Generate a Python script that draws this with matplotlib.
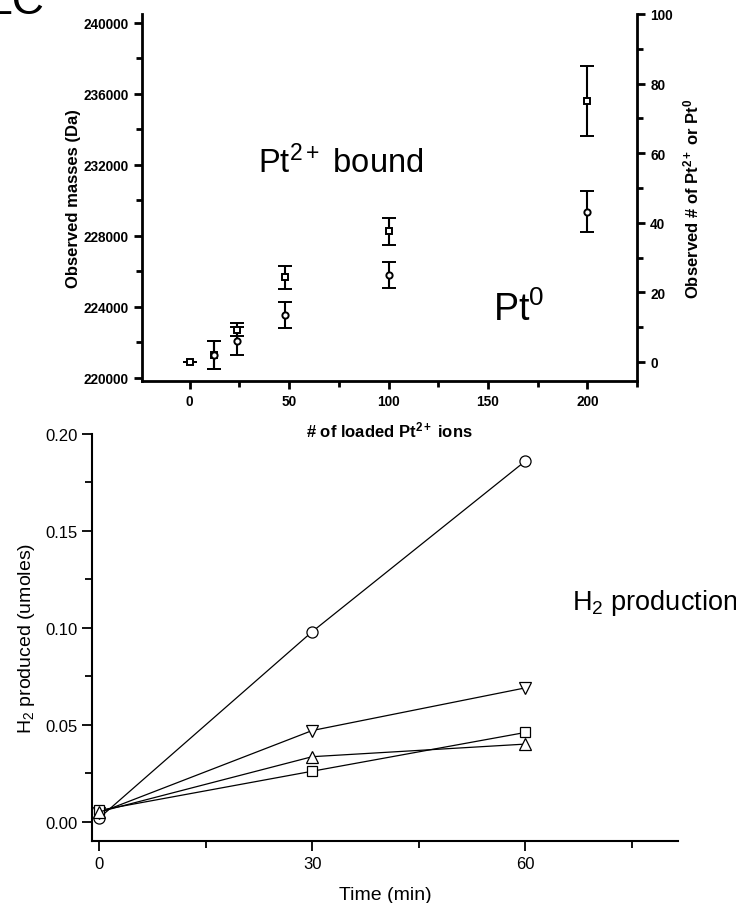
import numpy as np
import matplotlib
matplotlib.use('Agg')
import matplotlib.pyplot as plt
from matplotlib.ticker import MultipleLocator

# Pt loading series (counts of Pt per particle, with error)
loaded = [0, 12, 24, 48, 100, 200]
pt2_n = [0.0, 2.0, 9.2, 24.3, 37.6, 75.0]
pt2_err = [0.0, 4.0, 1.9, 3.3, 3.9, 10.1]
pt0_x = [12, 24, 48, 100, 200]
pt0_n = [2.0, 5.9, 13.5, 25.0, 43.2]
pt0_err = [4.0, 4.0, 3.7, 3.7, 5.9]

# mass scale: apo mass plus one Pt atom per count
mass0 = 220900.0
da_per_pt = 196.0

# H2 production series
time_min = [0, 30, 60]
h2_circle = [0.0018, 0.098, 0.186]
h2_down = [0.0045, 0.047, 0.069]
h2_square = [0.0058, 0.026, 0.046]
h2_up = [0.0050, 0.0335, 0.040]

plt.rcParams['font.family'] = ['Liberation Sans', 'DejaVu Sans']
plt.rcParams['mathtext.fontset'] = 'custom'
plt.rcParams['mathtext.rm'] = 'Liberation Sans'
plt.rcParams['mathtext.it'] = 'Liberation Sans:italic'
plt.rcParams['mathtext.bf'] = 'Liberation Sans:bold'

W, H = 736, 904
fig = plt.figure(figsize=(W / 100, H / 100), dpi=100)

def box(l, r, t, b):
    return [l / W, 1 - b / H, (r - l) / W, (b - t) / H]

# ---- bottom panel: H2 production (made first so the top panel sits above) ----
bx = fig.add_axes(box(92, 678, 435, 842))
bx.patch.set_visible(False)
kw = dict(color='black', lw=0.9, mfc='white', mec='black', mew=0.9)
bx.plot(time_min, h2_circle, marker='o', ms=8, **kw)
bx.plot(time_min, h2_down, marker='v', ms=8, **kw)
bx.plot(time_min, h2_square, marker='s', ms=7, **kw)
bx.plot(time_min, h2_up, marker='^', ms=8, **kw)

bx.set_xlim(-1, 81.5)
bx.set_ylim(-0.01, 0.20)
bx.spines['top'].set_visible(False)
bx.spines['right'].set_visible(False)
for s in bx.spines.values():
    s.set_linewidth(1.5)
bx.set_xticks([0, 30, 60])
bx.xaxis.set_minor_locator(MultipleLocator(15))
bx.set_yticks([0.0, 0.05, 0.10, 0.15, 0.20])
bx.set_yticklabels(['0.00', '0.05', '0.10', '0.15', '0.20'])
bx.yaxis.set_minor_locator(MultipleLocator(0.025))
bx.tick_params(which='major', direction='out', length=7, width=1.3,
               labelsize=12)
bx.tick_params(which='minor', direction='out', length=5, width=1.3)
bx.set_xlabel('Time (min)', fontsize=14, labelpad=11)
bx.set_ylabel(r'H$_2$ produced (umoles)', fontsize=14, labelpad=6)

fig.text(572 / W, 1 - 603 / H, r'H$_2$ production', fontsize=19.5,
         va='center', ha='left')

# ---- top panel: observed masses vs loaded Pt ----
ax = fig.add_axes(box(142, 637, 15, 382))
ax2 = ax.twinx()
ax.patch.set_visible(False)
nlim = (-5.5, 100.0)
ax2.set_ylim(nlim)
ax.set_ylim(mass0 + da_per_pt * nlim[0], mass0 + da_per_pt * nlim[1])
ax.set_xlim(-24, 225)

ax2.errorbar(loaded, pt2_n, yerr=pt2_err, fmt='s', ms=4.5, mfc='white',
             mec='black', mew=1.4, ecolor='black', elinewidth=1.5,
             capsize=5, capthick=1.5, zorder=3)
ax2.errorbar(pt0_x, pt0_n, yerr=pt0_err, fmt='o', ms=4.5, mfc='white',
             mec='black', mew=1.4, ecolor='black', elinewidth=1.5,
             capsize=5, capthick=1.5, zorder=3)

for a in (ax, ax2):
    a.spines['top'].set_visible(False)
    for s in a.spines.values():
        s.set_linewidth(2)
ax.spines['right'].set_visible(False)
ax2.spines['left'].set_visible(False)
ax2.spines['bottom'].set_visible(False)

ax.xaxis.set_major_locator(MultipleLocator(50))
ax.xaxis.set_minor_locator(MultipleLocator(25))
ax.yaxis.set_major_locator(MultipleLocator(4000))
ax.yaxis.set_minor_locator(MultipleLocator(2000))
ax2.yaxis.set_major_locator(MultipleLocator(20))
ax2.yaxis.set_minor_locator(MultipleLocator(10))
for a in (ax, ax2):
    a.tick_params(which='major', direction='out', length=6, width=2,
                  labelsize=9.8)
    a.tick_params(which='minor', direction='out', length=4, width=2)
    for lab in a.get_xticklabels() + a.get_yticklabels():
        lab.set_fontweight('bold')

ax.set_ylabel('Observed masses (Da)', fontsize=12, fontweight='bold',
              labelpad=2)
ax2.set_ylabel(r'Observed # of Pt$^{\mathbf{2+}}$ or Pt$^{\mathbf{0}}$',
               fontsize=12, fontweight='bold', labelpad=6)
ax.set_xlabel(r'# of loaded Pt$^{\mathbf{2+}}$ ions', fontsize=12,
              fontweight='bold', labelpad=8)

fig.text(258 / W, 1 - 163 / H, r'Pt$^{2+}$ bound', fontsize=23.5,
         va='center', ha='left')
fig.text(493 / W, 1 - 310 / H, r'Pt$^{0}$', fontsize=27,
         va='center', ha='left')
fig.text(44 / W, 1 - 14 / H, 'LC', fontsize=32, va='baseline', ha='right')

fig.savefig('out.png', dpi=100)
